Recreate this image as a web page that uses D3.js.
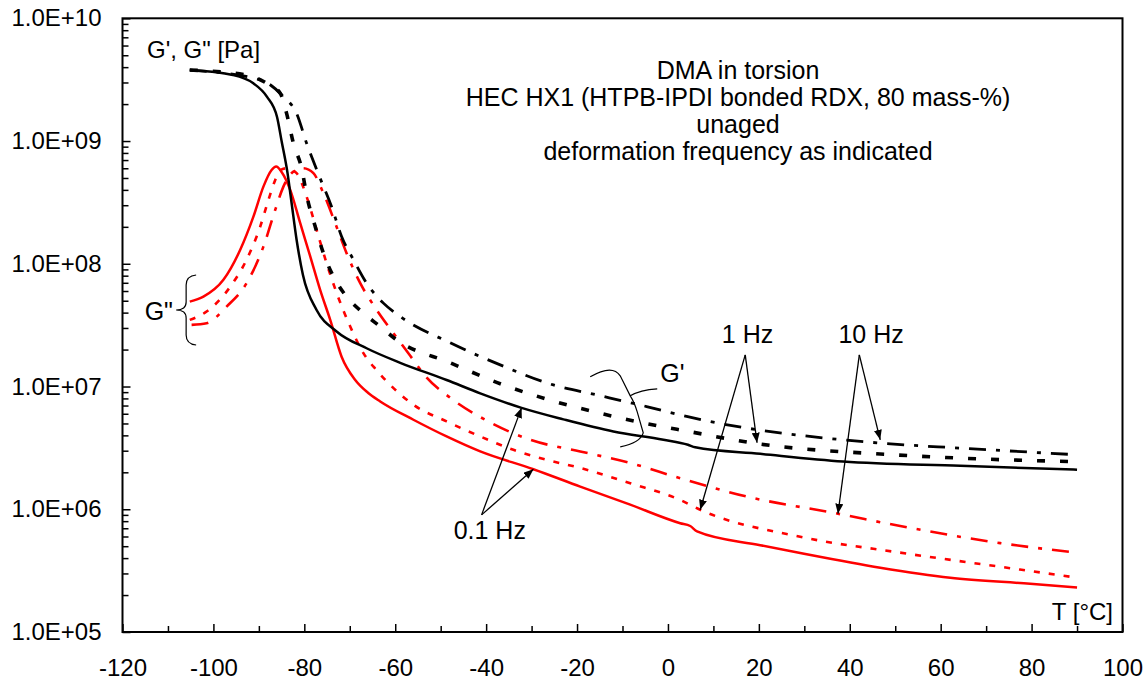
<!DOCTYPE html>
<html><head><meta charset="utf-8">
<script src="https://cdn.jsdelivr.net/npm/d3@7"></script>
<style>body{margin:0;background:#fff} text{font-family:"Liberation Sans",Arial,sans-serif;fill:#000}</style>
</head><body><svg id="c" width="1148" height="682"></svg>
<script>
// ---------- data (T in °C, modulus in Pa) ----------
const T_Gp_01 = [-105.2,-95.7,-91.3,-88.2,-86.0,-85.0,-83.7,-82.8,-81.7,-80.3,-77.3,-72.9,-66.3,-58.9,-48.7,-41.3,-32.2,-23.0,-12.0,-1.0,4.4,6.0,20.3,38.5,64.3,90.0];
const G_Gp_01 = [3.79e9,3.45e9,2.97e9,2.29e9,1.57e9,1.0e9,5.5e8,3.13e8,1.57e8,8.1e7,4.2e7,2.81e7,2.05e7,1.56e7,1.13e7,8.8e6,6.7e6,5.4e6,4.3e6,3.68e6,3.35e6,3.2e6,2.83e6,2.45e6,2.26e6,2.10e6];

const T_Gp_1 = [-105.2,-92.7,-88.3,-85.3,-83.9,-82.4,-80.5,-79.5,-77.6,-75.8,-73.2,-70.7,-67.0,-63.3,-59.7,-47.9,-36.2,-26.7,-16.4,-6.1,4.9,18.8,49.6,64.3,90.0];
const G_Gp_1 = [3.79e9,3.45e9,2.96e9,2.45e9,1.68e9,9.6e8,5.8e8,3.64e8,2.01e8,1.22e8,7.4e7,5.4e7,3.96e7,3.08e7,2.40e7,1.56e7,1.03e7,7.9e6,6.25e6,5.1e6,4.28e6,3.46e6,2.78e6,2.61e6,2.44e6];

const T_Gp_10 = [-105.2,-89.7,-84.6,-81.7,-79.5,-77.0,-74.0,-71.8,-69.2,-66.3,-62.6,-58.9,-47.9,-36.9,-25.2,-15.7,-4.7,4.1,46.7,64.3,90.0];
const G_Gp_10 = [3.79e9,3.15e9,2.30e9,1.68e9,9.6e8,5.5e8,2.92e8,1.67e8,1.08e8,6.95e7,4.78e7,3.72e7,2.27e7,1.50e7,1.03e7,8.55e6,6.87e6,5.7e6,3.46e6,3.15e6,2.78e6];

const T_Gpp_01 = [-105.2,-102.2,-97.8,-94.1,-91.2,-89.0,-87.2,-86.2,-85.0,-83.1,-80.9,-78.7,-76.5,-74.3,-71.8,-68.8,-66.0,-63.3,-56.0,-48.7,-41.3,-29.6,-19.3,-8.3,2.7,4.9,6.4,20.3,29.1,46.7,62.1,79.7,90.0];
const G_Gpp_01 = [4.92e7,5.4e7,7.4e7,1.30e8,2.42e8,4.25e8,5.8e8,6.2e8,5.6e8,4.0e8,2.14e8,1.15e8,6.1e7,3.49e7,1.75e7,1.13e7,8.9e6,7.55e6,5.36e6,3.92e6,2.96e6,2.12e6,1.53e6,1.09e6,7.7e5,7.3e5,6.6e5,5.1e5,4.4e5,3.34e5,2.77e5,2.47e5,2.30e5];

const T_Gpp_1 = [-105.2,-101.5,-96.3,-92.7,-89.7,-87.9,-86.4,-85.3,-83.9,-81.7,-79.5,-77.3,-75.1,-72.9,-69.9,-67.0,-64.2,-61.1,-56.0,-48.7,-41.3,-34.0,-26.7,-19.3,-8.3,2.7,7.1,29.1,51.1,73.1,90.0];
const G_Gpp_1 = [3.49e7,4.08e7,6.5e7,1.08e8,2.01e8,3.31e8,4.82e8,5.8e8,6.0e8,5.47e8,3.53e8,1.89e8,1.01e8,5.8e7,3.08e7,1.87e7,1.37e7,1.03e7,7.1e6,5.2e6,3.92e6,3.05e6,2.53e6,2.17e6,1.63e6,1.19e6,9.9e5,5.97e5,4.43e5,3.4e5,2.77e5];

const T_Gpp_10 = [-104.8,-101.5,-97.1,-92.7,-89.0,-86.4,-84.6,-82.4,-80.2,-78.0,-75.8,-73.2,-70.7,-67.7,-64.1,-60.4,-56.7,-53.4,-47.3,-39.8,-30.3,-19.3,-8.3,2.7,17.3,37.4,51.1,73.1,90.0];
const G_Gpp_10 = [3.18e7,3.28e7,4.48e7,6.95e7,1.38e8,2.75e8,4.25e8,5.64e8,6.0e8,5.47e8,3.76e8,2.14e8,1.22e8,6.95e7,4.22e7,2.72e7,1.78e7,1.22e7,7.8e6,5.26e6,3.68e6,2.96e6,2.38e6,1.79e6,1.27e6,9.2e5,7.3e5,5.3e5,4.43e5];

const xTickValues = [-120,-100,-80,-60,-40,-20,0,20,40,60,80,100];
const xTickLabels = ["-120","-100","-80","-60","-40","-20","0","20","40","60","80","100"];
const yTickValues = [1e5,1e6,1e7,1e8,1e9,1e10];
const yTickLabels = ["1.0E+05","1.0E+06","1.0E+07","1.0E+08","1.0E+09","1.0E+10"];

const titleLines = ["DMA in torsion","HEC HX1 (HTPB-IPDI bonded RDX, 80 mass-%)","unaged","deformation frequency as indicated"];
const yAxisTitle = "G', G\" [Pa]";
const xAxisTitle = "T [°C]";

// annotation arrows: label, label anchor (T,G), arrow origin, targets
const arrowLabels = ["0.1 Hz","1 Hz","10 Hz"];
const arrowLabelPos = [[-39.2, 5.75e5],[17.5, 2.28e7],[44.7, 2.28e7]];
const arrowOrigins = [[-41.0, 9.0e5],[17.0, 1.81e7],[42.1, 1.81e7]];
const arrowTargets = [
  [[-32.2, 6.7e6],[-29.6, 2.12e6]],
  [[19.6, 3.48e6],[7.1, 9.9e5]],
  [[46.7, 3.68e6],[37.4, 9.2e5]]
];

// ---------- chart ----------
const svg = d3.select("#c");
const x = d3.scaleLinear().domain([-120,100]).range([122.5,1122.5]);
const y = d3.scaleLog().domain([1e5,1e10]).range([632,18.3]);

// x axis
const xAll = d3.range(-120,101,10);
const gx = svg.append("g").attr("transform",`translate(0,${y(1e5)})`)
  .call(d3.axisBottom(x).tickValues(xAll).tickSizeOuter(0).tickSize(-7).tickPadding(27)
    .tickFormat(d => { const i = xTickValues.indexOf(d); return i>=0 ? xTickLabels[i] : ""; }));
gx.select(".domain").remove();
gx.selectAll(".tick line").attr("stroke","#000").attr("stroke-width",1.5)
  .attr("y2", d => xTickValues.includes(d) ? -8 : -6);
gx.selectAll(".tick text").style("font-size","24px").attr("fill","#000");

// y axis
const yAll = [];
for (let e=5; e<10; e++) for (let m=1; m<10; m++) yAll.push(m*Math.pow(10,e));
yAll.push(1e10);
const gy = svg.append("g").attr("transform",`translate(${x(-120)},0)`)
  .call(d3.axisLeft(y).tickValues(yAll).tickSizeOuter(0).tickSize(-7).tickPadding(21)
    .tickFormat(d => { const i = yTickValues.findIndex(v => Math.abs(v-d)/v < 1e-6); return i>=0 ? yTickLabels[i] : ""; }));
gy.select(".domain").remove();
gy.selectAll(".tick line").attr("stroke","#000").attr("stroke-width",1.5)
  .attr("x2", d => yTickValues.some(v => Math.abs(v-d)/v < 1e-6) ? 8 : 6);
gy.selectAll(".tick text").style("font-size","24px").attr("fill","#000");

// frame
svg.append("rect").attr("x",x(-120)).attr("y",y(1e10))
  .attr("width",x(100)-x(-120)).attr("height",y(1e5)-y(1e10))
  .attr("fill","none").attr("stroke","#000").attr("stroke-width",2);

// lines
const line = d3.line().x(d=>x(d[0])).y(d=>y(d[1])).curve(d3.curveMonotoneX);
const zip = (a,b) => a.map((t,i)=>[t,b[i]]);
const series = [
  {T:T_Gpp_10, G:G_Gpp_10, c:"#ff0000", w:2.6, dash:"17,10,4,10"},
  {T:T_Gpp_1,  G:G_Gpp_1,  c:"#ff0000", w:2.6, dash:"6,9"},
  {T:T_Gpp_01, G:G_Gpp_01, c:"#ff0000", w:2.5, dash:null},
  {T:T_Gp_10,  G:G_Gp_10,  c:"#000000", w:2.8, dash:"17,10,4,10"},
  {T:T_Gp_1,   G:G_Gp_1,   c:"#000000", w:3.6, dash:"8,15"},
  {T:T_Gp_01,  G:G_Gp_01,  c:"#000000", w:2.5, dash:null}
];
series.forEach(s => {
  svg.append("path").attr("d", line(zip(s.T,s.G)))
    .attr("fill","none").attr("stroke",s.c).attr("stroke-width",s.w)
    .attr("stroke-dasharray", s.dash);
});

// text annotations
svg.append("g").selectAll("text").data(titleLines).join("text")
  .attr("x",738).attr("y",(d,i)=>79+i*27).attr("text-anchor","middle")
  .style("font-size","25px").text(d=>d);
svg.append("text").attr("x",147).attr("y",58).style("font-size","24px").text(yAxisTitle);
svg.append("text").attr("x",1113).attr("y",620).attr("text-anchor","end").style("font-size","24px").text(xAxisTitle);

// arrows
const defs = svg.append("defs");
defs.append("marker").attr("id","ah").attr("markerUnits","userSpaceOnUse")
  .attr("markerWidth",11).attr("markerHeight",8).attr("refX",10).attr("refY",4).attr("orient","auto")
  .append("path").attr("d","M0,0 L10,4 L0,8 Z").attr("fill","#000");
arrowLabels.forEach((lab,i) => {
  svg.append("text").attr("x",x(arrowLabelPos[i][0])).attr("y",y(arrowLabelPos[i][1]))
    .attr("text-anchor","middle").style("font-size","25px").text(lab);
  arrowTargets[i].forEach(t => {
    svg.append("line").attr("x1",x(arrowOrigins[i][0])).attr("y1",y(arrowOrigins[i][1]))
      .attr("x2",x(t[0])).attr("y2",y(t[1])).attr("stroke","#000").attr("stroke-width",1.3)
      .attr("marker-end","url(#ah)");
  });
});

// G' brace and label
const gpAnchor = [-8.3, 8.4e6];
svg.append("path")
  .attr("transform",`translate(${x(gpAnchor[0])},${y(gpAnchor[1])})`)
  .attr("d","M-40,-19 Q-18,-32 -10,-20 L0,0 Q10,-6 27,-7 M0,0 Q4,6 7,16 L13,37 Q10,47 -10,51")
  .attr("fill","none").attr("stroke","#000").attr("stroke-width",1.2);
svg.append("text").attr("x",x(-1.7)).attr("y",y(1.09e7)).style("font-size","25px").text("G'");

// G'' brace and label
const gppAnchor = [-106.0, 4.2e7];
svg.append("path")
  .attr("transform",`translate(${x(gppAnchor[0])},${y(gppAnchor[1])})`)
  .attr("d","M10,-35 Q0,-34 0,-25 L0,-8 Q0,0 -10,0 Q0,0 0,8 L0,25 Q0,34 10,35")
  .attr("fill","none").attr("stroke","#000").attr("stroke-width",1.2);
svg.append("text").attr("x",x(-108.9)).attr("y",y(3.49e7)).attr("text-anchor","end")
  .style("font-size","25px").text("G\"");
</script></body></html>
